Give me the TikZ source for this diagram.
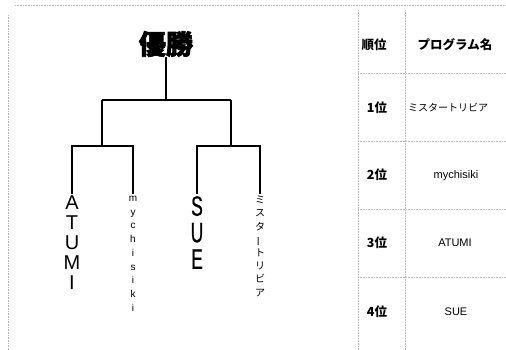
\documentclass[tikz,border=0pt]{standalone}
\usepackage{fontspec}
\usepackage{graphicx}
\setmainfont{Liberation Sans}
\newfontfamily\cjk{Noto Sans CJK JP}
\newfontfamily\cjkh[FakeBold=2.5]{Noto Sans CJK JP}
\newfontfamily\cond[FakeStretch=0.62,FakeBold=0.6]{Liberation Sans}
\begin{document}
\begin{tikzpicture}[x=1pt,y=-1pt,
  frame/.style={draw=gray!55,densely dotted,line width=0.6pt},
  br/.style={draw=black,line width=2.2pt},
  champ/.style={font={\cjkh\bfseries\fontsize{27}{28}\selectfont},inner sep=0pt},
  leafA/.style={align=center,anchor=north,inner sep=2pt,font={\fontsize{20}{20}\selectfont}},
  leafS/.style={align=center,anchor=north,inner sep=2pt,font={\cond\fontsize{28}{26.5}\selectfont}},
  leafs/.style={align=center,anchor=north,inner sep=2pt,font={\fontsize{10}{13.7}\selectfont}},
  leafj/.style={align=center,anchor=north,inner sep=2pt,font={\cjk\fontsize{10}{13.2}\selectfont}},
  rank/.style={font={\cjk\bfseries\fontsize{12.5}{14}\selectfont}},
  pname/.style={font={\fontsize{11}{13}\selectfont}},
  pnamej/.style={font={\cjk\fontsize{10}{12}\selectfont}}]
\useasboundingbox (0,0) rectangle (506,350);
% frame
\draw[frame] (15,5) -- (506,5);
\draw[frame] (8,15) -- (8,350);
\draw[frame] (358,10) -- (358,350);
\draw[frame] (405,10) -- (405,350);
\foreach \yy in {73,141,209,277} \draw[frame] (358,\yy) -- (506,\yy);
% table
\node[rank] (hrank) at (374,45) {順位};
\node[rank] (hname) at (455,45) {プログラム名};
\node[rank] (r1) at (377,108) {{\bfseries 1}位};
\node[rank] (r2) at (377,175) {{\bfseries 2}位};
\node[rank] (r3) at (377,243) {{\bfseries 3}位};
\node[rank] (r4) at (377,312) {{\bfseries 4}位};
\node[pnamej] (p1) at (448,108) {ミスタートリビア};
\node[pname] (p2) at (456,176) {mychisiki};
\node[pname] (p3) at (455,243) {ATUMI};
\node[pname] (p4) at (456,312) {SUE};
% bracket
\node[champ] (win) at (166,44) {優勝};
\coordinate (top) at (166,100);
\coordinate (lj) at (102,100);
\coordinate (rj) at (231,100);
\coordinate (lb) at (102,146);
\coordinate (rb) at (231,146);
\node[leafA] (atumi) at (72,194) {A\\T\\U\\M\\I};
\node[leafs] (mych) at (133,194) {m\\y\\c\\h\\i\\s\\i\\k\\i};
\node[leafS] (sue) at (197,194) {S\\U\\E};
\node[leafj] (mist) at (260,194) {ミ\\ス\\タ\\\rotatebox[origin=c]{90}{ー}\\ト\\リ\\ビ\\ア};
\draw[br] (win.south) -- (top);
\draw[br] (lj) -- (rj);
\draw[br] (lj) -- (lb);
\draw[br] (rj) -- (rb);
\draw[br] (atumi.north) |- (lb) -| (mych.north);
\draw[br] (sue.north) |- (rb) -| (mist.north);
\end{tikzpicture}
\end{document}
